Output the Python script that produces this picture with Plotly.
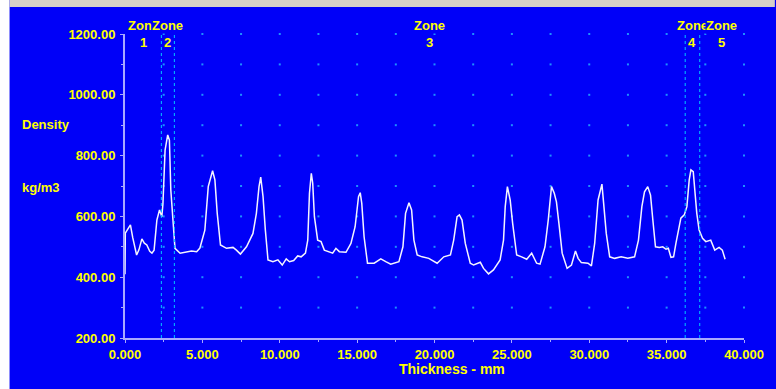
import numpy as np
import plotly.graph_objects as go

# ---- data ----
thickness_mm = [0.00, 0.02, 0.20, 0.35, 0.50, 0.75, 0.90, 1.09, 1.25, 1.41, 1.60, 1.74, 1.88, 2.06, 2.23, 2.38, 2.45,
                2.59, 2.76, 2.87, 2.96, 3.08, 3.23, 3.56, 3.99, 4.30, 4.63, 4.84, 5.16, 5.38, 5.66, 5.81, 5.96, 6.17,
                6.56, 6.98, 7.20, 7.46, 7.85, 8.27, 8.49, 8.66, 8.77, 8.92, 9.07, 9.24, 9.56, 9.88, 10.16, 10.42,
                10.63, 10.90, 11.16, 11.38, 11.66, 11.81, 11.92, 12.04, 12.13, 12.24, 12.45, 12.67, 12.88, 13.20,
                13.42, 13.63, 13.85, 14.28, 14.60, 14.87, 15.09, 15.20, 15.30, 15.45, 15.67, 16.10, 16.53, 16.85,
                17.17, 17.70, 17.96, 18.13, 18.35, 18.52, 18.67, 18.88, 19.20, 19.63, 20.17, 20.60, 21.03, 21.24,
                21.46, 21.61, 21.78, 21.99, 22.31, 22.53, 22.96, 23.17, 23.49, 23.81, 24.24, 24.46, 24.57, 24.71,
                24.89, 25.05, 25.31, 25.63, 25.96, 26.28, 26.60, 26.82, 27.14, 27.35, 27.56, 27.74, 27.88, 28.04,
                28.25, 28.57, 28.85, 29.11, 29.28, 29.49, 29.92, 30.14, 30.35, 30.57, 30.74, 30.82, 30.93, 31.10,
                31.32, 31.64, 32.06, 32.49, 32.93, 33.18, 33.40, 33.57, 33.78, 33.96, 34.11, 34.28, 34.53, 34.75,
                34.96, 35.11, 35.28, 35.45, 35.60, 35.75, 35.92, 36.14, 36.31, 36.46, 36.57, 36.72, 36.82, 36.95,
                37.10, 37.32, 37.53, 37.85, 38.11, 38.39, 38.60, 38.78]
density = [410, 545, 560, 572, 530, 473, 490, 526, 512, 506, 485, 479, 489, 588, 621, 599, 640,
           818, 868, 851, 687, 588, 495, 479, 484, 486, 484, 496, 555, 698, 750, 720, 610, 506,
           495, 498, 489, 476, 500, 544, 610, 698, 729, 665, 555, 457, 451, 457, 440, 460,
           451, 455, 470, 467, 479, 522, 676, 742, 709, 599, 522, 517, 489, 484,
           479, 495, 484, 482, 511, 566, 665, 678, 643, 533, 446, 446, 460, 451,
           443, 451, 500, 610, 645, 621, 522, 473, 467, 462, 446, 467, 473, 522,
           599, 605, 588, 511, 446, 440, 449, 429, 411, 424, 457, 522, 632, 698,
           654, 577, 473, 467, 459, 479, 446, 443, 500, 588, 698, 676, 648, 577,
           479, 429, 440, 486, 462, 448, 446, 437, 511, 654, 698, 706, 643, 544,
           467, 462, 467, 462, 467, 522, 632, 681, 698, 670, 588, 500, 498, 500,
           492, 495, 465, 467, 511, 555, 594, 605, 632, 720, 753, 747, 687, 610,
           555, 528, 517, 522, 489, 498, 489, 459]

zone_bounds = [2.35, 3.19, 36.2, 37.14]
zone_names = ["1", "2", "3", "4", "5"]

x_ticks = [0, 5, 10, 15, 20, 25, 30, 35, 40]
y_ticks = [200, 400, 600, 800, 1000, 1200]
x_range = [0, 40]
y_range = [200, 1200]
grid_dx = 2.5
grid_dy = 100

# ---- style ----
W, H = 776, 389
ML, MR, MT, MB = 125, 29, 34, 51
BLUE = "#0000F8"
YELLOW = "#FFFF00"
AXIS = "#A8A8FF"
FONT = "Liberation Sans"

pw = W - ML - MR
ph = H - MT - MB


def px_to_paper_x(px):
    return (px - ML) / pw


def px_to_paper_y(py):
    return (H - MB - py) / ph


fig = go.Figure()

# grid dots at intersections
gx = np.arange(x_range[0] + grid_dx, x_range[1] + 1e-9, grid_dx)
gy = np.arange(y_range[0] + grid_dy, y_range[1] + 1e-9, grid_dy)
GX, GY = np.meshgrid(gx, gy)
fig.add_trace(go.Scatter(x=GX.ravel(), y=GY.ravel(), mode="markers",
                         marker=dict(symbol="square", size=2, color="#1E90FF", line=dict(width=0)),
                         hoverinfo="skip", showlegend=False, cliponaxis=False))

# zone boundary lines
for b in zone_bounds:
    fig.add_shape(type="line", x0=b, x1=b, xref="x", y0=0, y1=1, yref="paper",
                  line=dict(color="#00C8FF", width=1, dash="dot"))

# density curve
fig.add_trace(go.Scatter(x=thickness_mm, y=density, mode="lines",
                         line=dict(color="#F4F4FF", width=1.5),
                         hoverinfo="skip", showlegend=False))

# zone labels
edges = [x_range[0]] + zone_bounds + [x_range[1]]
centers = [(edges[i] + edges[i + 1]) / 2 for i in range(len(zone_names))]
for c, n in zip(centers, zone_names):
    fig.add_annotation(x=c, xref="x", y=px_to_paper_y(25), yref="paper", text="<b>Zone</b>",
                       showarrow=False, font=dict(family=FONT, size=13, color=YELLOW),
                       bgcolor=BLUE, borderpad=0, xanchor="center", yanchor="middle")
    fig.add_annotation(x=c, xref="x", y=px_to_paper_y(43), yref="paper", text="<b>" + n + "</b>",
                       showarrow=False, font=dict(family=FONT, size=13, color=YELLOW),
                       xanchor="center", yanchor="middle")

# axis titles
fig.add_annotation(x=px_to_paper_x(19), xref="paper", y=px_to_paper_y(125), yref="paper",
                   text="<b>Density</b>", showarrow=False, xanchor="left", yanchor="middle",
                   font=dict(family=FONT, size=13, color=YELLOW))
fig.add_annotation(x=px_to_paper_x(19), xref="paper", y=px_to_paper_y(187), yref="paper",
                   text="<b>kg/m3</b>", showarrow=False, xanchor="left", yanchor="middle",
                   font=dict(family=FONT, size=13, color=YELLOW))
fig.add_annotation(x=px_to_paper_x(454), xref="paper", y=px_to_paper_y(369), yref="paper",
                   text="<b>Thickness - mm</b>", showarrow=False, xanchor="center", yanchor="middle",
                   font=dict(family=FONT, size=14, color=YELLOW))

# window frame strips
fig.add_shape(type="rect", xref="paper", yref="paper",
              x0=px_to_paper_x(-2), x1=px_to_paper_x(9), y0=px_to_paper_y(H + 2), y1=px_to_paper_y(-2),
              fillcolor="white", line=dict(width=0), layer="above")
fig.add_shape(type="rect", xref="paper", yref="paper",
              x0=px_to_paper_x(9), x1=px_to_paper_x(W + 2), y0=px_to_paper_y(7), y1=px_to_paper_y(-2),
              fillcolor="#D4D0C8", line=dict(width=0), layer="above")

axis_common = dict(showgrid=False, zeroline=False, showline=True, linecolor=AXIS, linewidth=2,
                   ticks="outside", ticklen=3, tickcolor=AXIS, tickwidth=1,
                   tickfont=dict(family=FONT, size=13, color=YELLOW, weight="bold"))

fig.update_xaxes(range=x_range, tickvals=x_ticks, tickformat=".3f",
                 minor=dict(dtick=grid_dx, ticks="outside", ticklen=2, tickcolor=AXIS),
                 **axis_common)
fig.update_yaxes(range=y_range, tickvals=y_ticks, tickformat=".2f",
                 minor=dict(dtick=grid_dy, ticks="outside", ticklen=2, tickcolor=AXIS),
                 ticklabelstandoff=2, **axis_common)

fig.update_layout(width=W, height=H, margin=dict(l=ML, r=MR, t=MT, b=MB),
                  paper_bgcolor=BLUE, plot_bgcolor=BLUE, showlegend=False, hovermode=False)

fig.write_html("out.html", config={"displayModeBar": False},
               post_script="document.body.style.margin='0';document.body.style.overflow='hidden';"
                           "document.body.style.background='#0000F8';")
